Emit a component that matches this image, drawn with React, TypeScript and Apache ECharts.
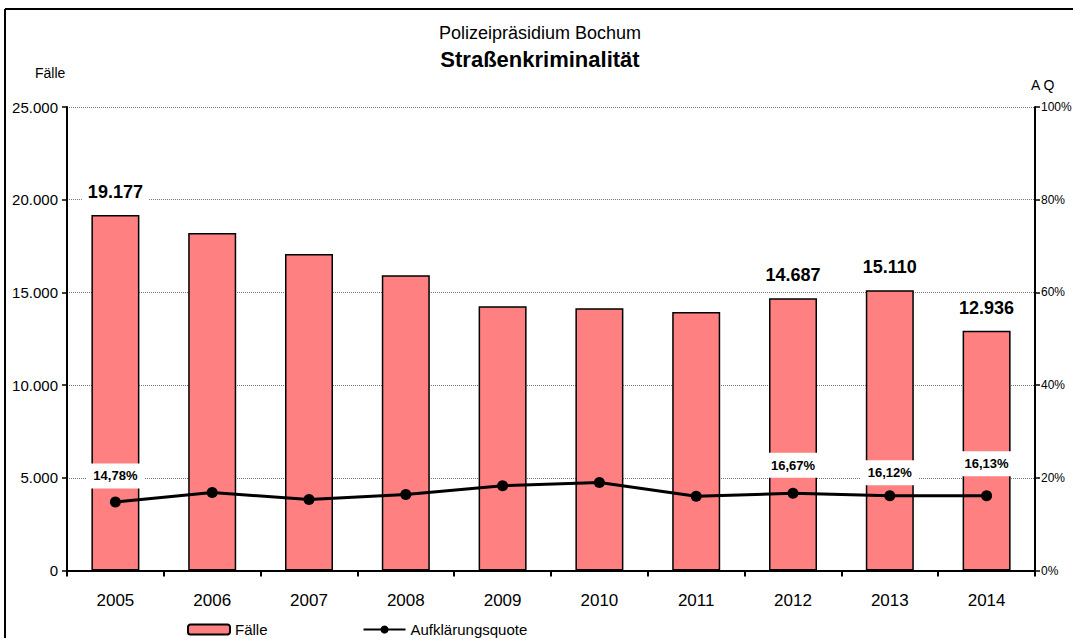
import React, { useEffect, useRef } from "react";
import * as echarts from "echarts";

const years = ["2005", "2006", "2007", "2008", "2009", "2010", "2011", "2012", "2013", "2014"];
const faelle = [19177, 18200, 17070, 15930, 14250, 14150, 13940, 14687, 15110, 12936];
const quote = [14.78, 16.85, 15.3, 16.4, 18.3, 19.0, 16.0, 16.67, 16.12, 16.13];
const labeledYears = ["2005", "2012", "2013", "2014"];
const titleTop = "Polizeipräsidium Bochum";
const titleMain = "Straßenkriminalität";
const seriesNames = ["Fälle", "Aufklärungsquote"];

const FONT = "'Liberation Sans', Arial, sans-serif";
const fmtThousands = (v: number) => String(v).replace(/\B(?=(\d{3})+(?!\d))/g, ".");
const fmtPct = (v: number) => v.toFixed(2).replace(".", ",") + "%";

const quoteLabelOffsetY: Record<string, number> = { "2005": 0, "2012": -2, "2013": 3, "2014": -6 };

export default function App() {
  const ref = useRef<HTMLDivElement>(null);
  useEffect(() => {
    if (!ref.current) return;
    const chart = echarts.init(ref.current, null, { renderer: "svg" });
    const barData = faelle.map((v, i) => ({
      value: v,
      label: {
        show: labeledYears.includes(years[i]),
        position: "top",
        distance: 12,
        formatter: () => fmtThousands(v),
        fontSize: 18,
        fontWeight: "bold",
        color: "#000",
        fontFamily: FONT,
        backgroundColor: "#fff",
        padding: [2, 6],
      },
    }));
    const lineData = quote.map((v, i) => ({
      value: v,
      label: {
        show: labeledYears.includes(years[i]),
        position: "top",
        distance: 8,
        offset: [0, quoteLabelOffsetY[years[i]] || 0],
        formatter: () => fmtPct(v),
        fontSize: 13,
        fontWeight: "bold",
        color: "#000",
        fontFamily: FONT,
        backgroundColor: "#fff",
        padding: [6, 7],
      },
    }));
    chart.setOption({
      animation: false,
      backgroundColor: "#fff",
      textStyle: { fontFamily: FONT },
      grid: { left: 67, right: 38, top: 107, bottom: 67.5, containLabel: false, outerBoundsMode: "none" },
      legend: {
        left: 182,
        top: 617,
        itemWidth: 42,
        itemHeight: 10,
        itemGap: 95,
        textStyle: { fontSize: 15, color: "#000", fontFamily: FONT, lineHeight: 15 },
        data: seriesNames,
      },
      graphic: [
        { type: "line", shape: { x1: 5, y1: 9, x2: 1080, y2: 9 }, style: { stroke: "#000", lineWidth: 2 } },
        { type: "line", shape: { x1: 5, y1: 9, x2: 5, y2: 645 }, style: { stroke: "#000", lineWidth: 2 } },
        { type: "text", x: 540, y: 33, style: { text: titleTop, fontSize: 18, fill: "#000", fontFamily: FONT, textAlign: "center", textVerticalAlign: "middle" } },
        { type: "text", x: 540, y: 59, style: { text: titleMain, fontSize: 22, fontWeight: "bold", fill: "#000", fontFamily: FONT, textAlign: "center", textVerticalAlign: "middle" } },
        { type: "text", x: 35, y: 73, style: { text: "Fälle", fontSize: 14, fill: "#000", fontFamily: FONT, textVerticalAlign: "middle" } },
        { type: "text", x: 1031, y: 85, style: { text: "A Q", fontSize: 14, fill: "#000", fontFamily: FONT, textVerticalAlign: "middle" } },
      ],
      xAxis: {
        type: "category",
        data: years,
        boundaryGap: true,
        axisLine: { lineStyle: { color: "#000", width: 2 } },
        axisTick: { show: true, alignWithLabel: false, length: 6, lineStyle: { color: "#000", width: 2 } },
        axisLabel: { fontSize: 17, color: "#000", margin: 21, fontFamily: FONT },
      },
      yAxis: [
        {
          type: "value",
          min: 0,
          max: 25000,
          interval: 5000,
          axisLine: { show: true, lineStyle: { color: "#000", width: 2 } },
          axisTick: { show: true, length: 5, lineStyle: { color: "#000", width: 1.5 } },
          axisLabel: { fontSize: 15, color: "#000", margin: 9, formatter: (v: number) => fmtThousands(v), fontFamily: FONT },
          splitLine: { show: true, lineStyle: { color: "#777", type: [1, 1], width: 1 } },
        },
        {
          type: "value",
          min: 0,
          max: 100,
          interval: 20,
          axisLine: { show: true, lineStyle: { color: "#000", width: 2 } },
          axisTick: { show: true, length: 5, lineStyle: { color: "#000", width: 1.5 } },
          axisLabel: { fontSize: 12, color: "#000", margin: 6, formatter: "{value}%", fontFamily: FONT },
          splitLine: { show: false },
        },
      ],
      series: [
        {
          name: seriesNames[0],
          type: "bar",
          data: barData,
          barWidth: 48,
          itemStyle: { color: "#FF8080", borderColor: "#000", borderWidth: 1.5 },
          z: 2,
        },
        {
          name: seriesNames[1],
          type: "line",
          yAxisIndex: 1,
          data: lineData,
          symbol: "circle",
          symbolSize: 11,
          lineStyle: { color: "#000", width: 3 },
          itemStyle: { color: "#000" },
          z: 3,
        },
      ],
    });
    return () => chart.dispose();
  }, []);
  return <div ref={ref} style={{ position: "fixed", left: 0, top: 0, width: 1073, height: 638 }} />;
}
